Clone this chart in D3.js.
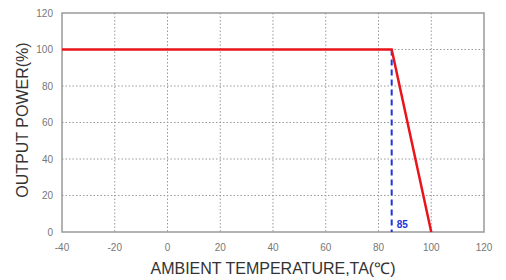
<!DOCTYPE html>
<html>
<head>
<meta charset="utf-8">
<script src="https://cdn.jsdelivr.net/npm/d3@7"></script>
<style>
  body { margin: 0; background: #fff; }
  text { font-family: Arial, "Liberation Sans", sans-serif; }
</style>
</head>
<body>
<div id="svg-area"></div>
<script>
// derating curve data
var temps = [-40, 85, 100];
var power = [100, 100, 0];
var xTicks = [-40, -20, 0, 20, 40, 60, 80, 100, 120];
var yTicks = [0, 20, 40, 60, 80, 100, 120];
var markTemp = 85;

var svgWidth = 506;
var svgHeight = 280;
var plotLeft = 62, plotRight = 484, plotTop = 13, plotBottom = 232;

var svg = d3.select("#svg-area")
  .append("svg")
  .attr("width", svgWidth)
  .attr("height", svgHeight);

var xScale = d3.scaleLinear().domain([-40, 120]).range([plotLeft, plotRight]);
var yScale = d3.scaleLinear().domain([0, 120]).range([plotBottom, plotTop]);

// grid lines
svg.append("g").selectAll("line").data(xTicks.slice(1, -1)).enter()
  .append("line")
  .attr("x1", d => xScale(d)).attr("x2", d => xScale(d))
  .attr("y1", plotTop).attr("y2", plotBottom)
  .attr("stroke", "#999").attr("stroke-width", 1)
  .attr("stroke-dasharray", "1.5,2");

svg.append("g").selectAll("line").data(yTicks.slice(1, -1)).enter()
  .append("line")
  .attr("x1", plotLeft).attr("x2", plotRight)
  .attr("y1", d => yScale(d)).attr("y2", d => yScale(d))
  .attr("stroke", "#999").attr("stroke-width", 1)
  .attr("stroke-dasharray", "1.5,2");

// frame
svg.append("rect")
  .attr("x", plotLeft).attr("y", plotTop)
  .attr("width", plotRight - plotLeft).attr("height", plotBottom - plotTop)
  .attr("fill", "none").attr("stroke", "#999").attr("stroke-width", 1.5);

// tick labels
svg.append("g").selectAll("text").data(xTicks).enter()
  .append("text")
  .attr("x", d => xScale(d)).attr("y", 251)
  .attr("text-anchor", "middle")
  .attr("font-size", 10).attr("fill", "#777")
  .text(d => d);

svg.append("g").selectAll("text").data(yTicks).enter()
  .append("text")
  .attr("x", 53).attr("y", d => yScale(d) + 3.5)
  .attr("text-anchor", "end")
  .attr("font-size", 10).attr("fill", "#777")
  .text(d => d);

// blue dashed marker at 85
svg.append("line")
  .attr("x1", xScale(markTemp)).attr("x2", xScale(markTemp))
  .attr("y1", yScale(100)).attr("y2", yScale(0))
  .attr("stroke", "#2233dd").attr("stroke-width", 2)
  .attr("stroke-dasharray", "6,4");

svg.append("text")
  .attr("x", xScale(markTemp) + 5).attr("y", yScale(0) - 4)
  .attr("font-size", 10).attr("font-weight", "bold").attr("fill", "#2233dd")
  .text(markTemp);

// red derating line
var pts = temps.map((t, i) => [t, power[i]]);
var createLine = d3.line()
  .x(d => xScale(d[0]))
  .y(d => yScale(d[1]));

svg.append("path")
  .attr("d", createLine(pts))
  .attr("fill", "none")
  .attr("stroke", "#e8141a")
  .attr("stroke-width", 2.5);

// axis titles
svg.append("text")
  .attr("x", 273).attr("y", 274)
  .attr("text-anchor", "middle")
  .attr("font-size", 16).attr("fill", "#333")
  .text("AMBIENT TEMPERATURE,TA(℃)");

svg.append("text")
  .attr("transform", "translate(28,120) rotate(-90)")
  .attr("text-anchor", "middle")
  .attr("font-size", 16).attr("fill", "#333")
  .text("OUTPUT POWER(%)");
</script>
</body>
</html>
